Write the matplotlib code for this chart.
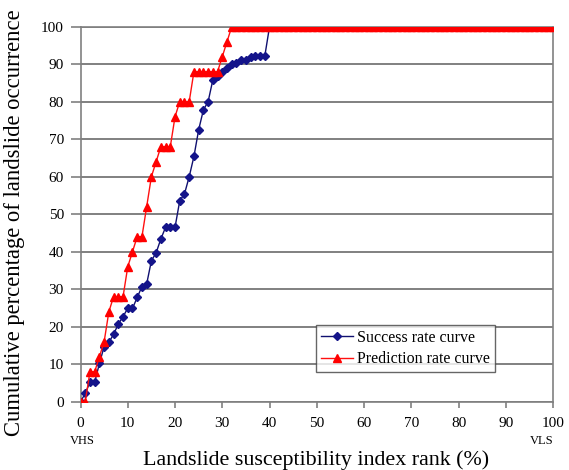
import numpy as np
import matplotlib
matplotlib.use("Agg")
import matplotlib.pyplot as plt

# landslide susceptibility index rank (%)
rank = list(range(0, 101))

# success rate curve, read at each 1 % step up to 40 %, then flat at 100
success_head = [0, 2.2, 5.2, 5.2, 10.2, 14.7, 15.8, 18, 20.7, 22.7,
                24.9, 24.9, 27.8, 30.7, 31.4, 37.6, 39.7, 43.4, 46.5, 46.5,
                46.5, 53.6, 55.4, 60, 65.4, 72.5, 77.8, 80, 85.8, 86.8,
                88, 89.1, 90, 90.2, 91.1, 91.1, 91.8, 92.2, 92.2, 92.2]
success_rate = success_head + [100] * (len(rank) - len(success_head))

# prediction rate curve (25 validation landslides -> steps of 4 %)
prediction_head = [0, 0, 8, 8, 12, 16, 24, 28, 28, 28,
                   36, 40, 44, 44, 52, 60, 64, 68, 68, 68,
                   76, 80, 80, 80, 88, 88, 88, 88, 88, 88,
                   92, 96]
prediction_rate = prediction_head + [100] * (len(rank) - len(prediction_head))

serif = "Liberation Serif"
plt.rcParams["font.family"] = serif

fig = plt.figure(figsize=(5.69, 4.70), dpi=100)
ax = fig.add_axes([0.1415, 0.1453, 0.8305, 0.7979])

grey = "#808080"
ax.set_xlim(0, 100)
ax.set_ylim(0, 100)
ax.set_xticks(np.arange(0, 101, 10))
ax.set_yticks(np.arange(0, 101, 10))
ax.yaxis.grid(True, color=grey, linewidth=1.4)
ax.set_axisbelow(True)
for side in ["left", "right", "bottom", "top"]:
    ax.spines[side].set_color(grey)
    ax.spines[side].set_linewidth(1.2)
ax.tick_params(axis="y", direction="out", length=7, width=1.2, color=grey,
               pad=5, labelsize=11)
ax.tick_params(axis="x", direction="out", length=4, width=1.2, color=grey,
               pad=7, labelsize=11)

ax.plot(rank, success_rate, color="#101070", linewidth=1.0, marker="D",
        markersize=4.5, markerfacecolor="#14148a", markeredgecolor="#14148a",
        label="Success rate curve", zorder=3)
ax.plot(rank, prediction_rate, color="#ff1010", linewidth=1.0, marker="^",
        markersize=6, markerfacecolor="#ff0000", markeredgecolor="#ff0000",
        label="Prediction rate curve", zorder=4)

leg = ax.legend(loc="lower left", bbox_to_anchor=(0.555, 0.2085),
                bbox_transform=fig.transFigure, borderaxespad=0,
                fontsize=11.5, frameon=True, fancybox=False, handlelength=2.0,
                handletextpad=0.3, borderpad=0.3, labelspacing=0.35)
leg.get_frame().set_edgecolor("#404040")
leg.get_frame().set_linewidth(1.0)

fig.text(0.555, 0.021, "Landslide susceptibility index rank (%)",
         ha="center", va="center", fontsize=15.8)
fig.text(0.025, 0.527, "Cumulative percentage of landslide occurrence",
         ha="center", va="center", rotation=90, fontsize=16.3)
fig.text(0.144, 0.048, "VHS", ha="center", va="bottom", fontsize=9)
fig.text(0.952, 0.048, "VLS", ha="center", va="bottom", fontsize=9)

fig.savefig("out.png", dpi=100)
